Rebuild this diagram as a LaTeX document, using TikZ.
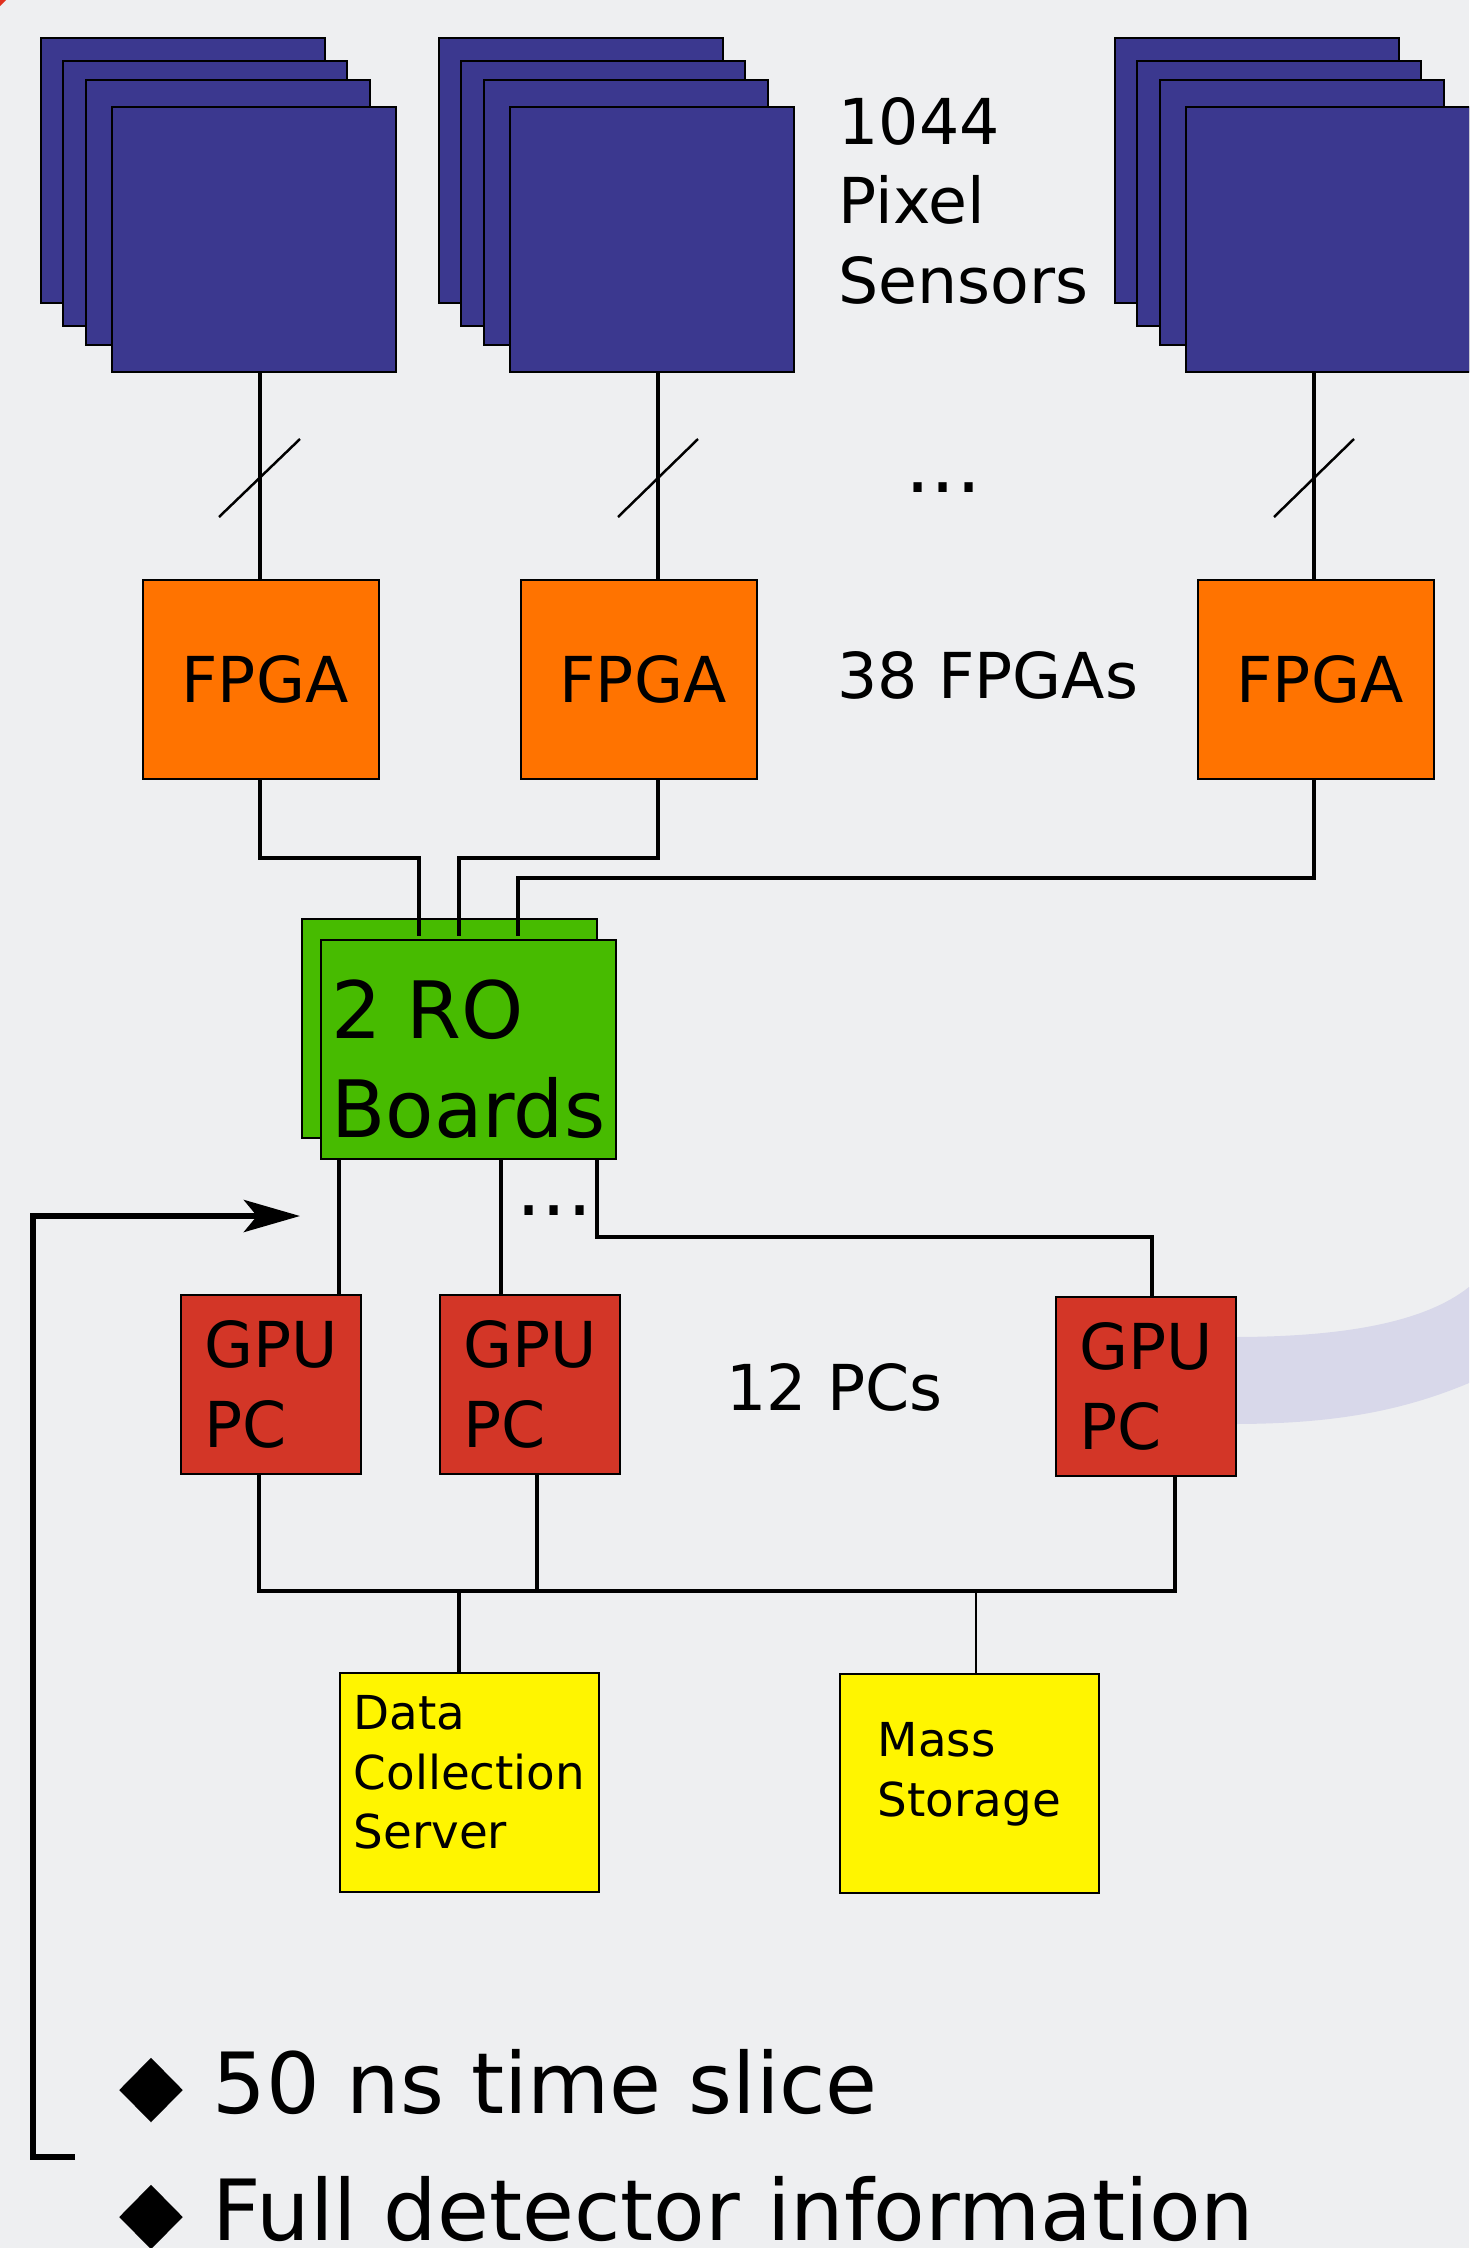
\documentclass[tikz,border=0pt]{standalone}
\usepackage{fontspec}
\setmainfont{DejaVu Sans}
\usetikzlibrary{arrows.meta, shapes.geometric}

\definecolor{bgcol}{HTML}{EEEFF1}
\definecolor{sensorblue}{HTML}{3B388F}
\definecolor{fpgaorange}{HTML}{FF7300}
\definecolor{rogreen}{HTML}{47BB00}
\definecolor{gpured}{HTML}{D33627}
\definecolor{storeyellow}{HTML}{FFF500}
\definecolor{bandlilac}{HTML}{D8D8EA}
\definecolor{cornerred}{HTML}{E0301E}

\begin{document}
\begin{tikzpicture}[
        x=0.01cm, y=-0.01cm,
        sensor/.style={
            draw=black,
            fill=sensorblue,
            line width=0.6pt,
            anchor=north west,
            inner sep=0pt,
            minimum width=2.84cm,
            minimum height=2.65cm
        },
        fpgabox/.style={
            draw=black,
            fill=fpgaorange,
            line width=0.5pt,
            anchor=north west,
            inner sep=0pt,
            font=\fontsize{18}{22.5}\selectfont,
            minimum width=2.36cm,
            minimum height=1.99cm
        },
        robox/.style={
            draw=black,
            fill=rogreen,
            line width=0.5pt,
            anchor=north west,
            inner sep=0pt,
            align=left,
            font=\fontsize{22.5}{28}\selectfont,
            minimum width=2.95cm,
            minimum height=2.19cm
        },
        gpubox/.style={
            draw=black,
            fill=gpured,
            line width=0.5pt,
            anchor=north west,
            inner sep=0pt,
            align=left,
            font=\fontsize{18}{22.8}\selectfont,
            minimum width=1.80cm,
            minimum height=1.79cm
        },
        storebox/.style={
            draw=black,
            fill=storeyellow,
            line width=0.5pt,
            anchor=north west,
            inner sep=0pt,
            align=left,
            font=\fontsize{13.3}{16.8}\selectfont,
            minimum width=2.59cm,
            minimum height=2.19cm
        },
        note/.style={
            anchor=base west,
            inner sep=0pt,
            align=left,
            font=\fontsize{18}{22.5}\selectfont
        },
        dots/.style={
            anchor=base west,
            inner sep=0pt,
            font=\fontsize{22.5}{27}\selectfont
        },
        bigtext/.style={
            anchor=base west,
            inner sep=0pt,
            font=\fontsize{24}{28}\selectfont
        },
        bullet/.style={
            diamond,
            fill=black,
            inner sep=0pt,
            minimum width=0.64cm,
            minimum height=0.65cm
        },
        wire/.style={
            line width=1.2pt,
            draw=black
        },
        thinwire/.style={
            line width=0.6pt,
            draw=black
        },
        slash/.style={
            line width=0.7pt,
            draw=black
        },
        feedback/.style={
            line width=1.7pt,
            draw=black,
            -{Stealth[length=0.56cm, width=0.32cm, inset=0.13cm]}
        }
    ]
        % Background
        \fill[bgcol] (0,0) rectangle (1469,2248);
        \useasboundingbox (0,0) rectangle (1469,2248);
        \clip (0,0) rectangle (1469,2248);
        \fill[cornerred] (0,0) -- (6,0) -- (0,6) -- cycle;

        % Band behind the last PC
        \fill[bandlilac] (1232,1337) .. controls (1345,1337) and (1425,1322) .. (1469,1287)
            -- (1469,1383) .. controls (1400,1412) and (1330,1424) .. (1232,1424) -- cycle;

        % Pixel sensors
        \foreach \n/\sx in {1/40, 2/438, 3/1114} {
            \node[sensor] (sens\n-a) at (\sx,37) {};
            \node[sensor] (sens\n-b) at (\sx+22,60) {};
            \node[sensor] (sens\n-c) at (\sx+45,79) {};
            \node[sensor] (sens\n) at (\sx+71,106) {};
        }
        \node[note] (pixels) at (838,303) {1044\\Pixel\\Sensors};
        \node[dots] (moresens) at (905,492) {...};

        % FPGAs
        \node[fpgabox] (fpga1) at (142,579) {\hspace*{0.08cm}FPGA};
        \node[fpgabox] (fpga2) at (520,579) {\hspace*{0.08cm}FPGA};
        \node[fpgabox] (fpga3) at (1197,579) {\hspace*{0.08cm}FPGA};
        \node[note] (nfpga) at (837,698) {38 FPGAs};

        % Readout boards
        \node[robox] (roback) at (301,918) {};
        \node[robox] (ro) at (320,939) {\rule{0pt}{0.78cm}2 RO\\Boards};
        \node[dots] (moreout) at (516,1215) {...};

        % GPU PCs
        \node[gpubox] (gpu1) at (180,1294) {GPU\\PC};
        \node[gpubox] (gpu2) at (439,1294) {GPU\\PC};
        \node[gpubox] (gpu3) at (1055,1296) {GPU\\PC};
        \node[note] (npc) at (726,1410) {12 PCs};

        % Storage
        \node[storebox, text depth=0.21cm] (dcs) at (339,1672) {Data\\Collection\\Server};
        \node[storebox, text depth=0.28cm] (mass) at (839,1673) {Mass\\Storage};

        % Columns of the links
        \coordinate (c1) at (260,0);
        \coordinate (c2) at (658,0);
        \coordinate (c3) at (1314,0);
        \coordinate (in1) at (419,936);
        \coordinate (in2) at (459,936);
        \coordinate (in3) at (518,936);
        \coordinate (o1) at (339,0);
        \coordinate (o2) at (501,0);
        \coordinate (o3) at (597,0);
        \coordinate (o4) at (1152,0);
        \coordinate (b1) at (259,0);
        \coordinate (b2) at (537,0);
        \coordinate (b3) at (1175,0);
        \coordinate (d1) at (459,0);
        \coordinate (d2) at (976,0);
        \coordinate (bus) at (0,1591);

        % Sensors to FPGAs
        \draw[wire] (sens1.south -| c1) -- (fpga1.north -| c1);
        \draw[wire] (sens2.south -| c2) -- (fpga2.north -| c2);
        \draw[wire] (sens3.south -| c3) -- (fpga3.north -| c3);
        \draw[slash] (219,517) -- (300,439);
        \draw[slash] (618,517) -- (698,439);
        \draw[slash] (1274,517) -- (1354,439);

        % FPGAs to readout boards
        \draw[wire] (fpga1.south -| c1) -- ++(0,78) -| (in1);
        \draw[wire] (fpga2.south -| c2) -- ++(0,78) -| (in2);
        \draw[wire] (fpga3.south -| c3) -- ++(0,98) -| (in3);

        % Readout boards to PCs
        \draw[wire] (ro.south -| o1) -- (gpu1.north -| o1);
        \draw[wire] (ro.south -| o2) -- (gpu2.north -| o2);
        \draw[wire] (ro.south -| o3) -- ++(0,77) -| (gpu3.north -| o4);

        % PCs to storage
        \draw[wire] (gpu1.south -| b1) -- (bus -| b1) -- (bus -| b3) -- (gpu3.south -| b3);
        \draw[wire] (gpu2.south -| b2) -- (bus -| b2);
        \draw[wire] (bus -| d1) -- (dcs.north -| d1);
        \draw[thinwire] (bus -| d2) -- (mass.north -| d2);

        % Time slice feedback
        \coordinate (foot) at (75,2157);
        \coordinate (roin) at (300,1216);
        \draw[feedback] (foot) -- ++(-42,0) |- (roin);

        \node[bullet] (bul1) at (151,2090) {};
        \node[bigtext] (slice) at (212,2113) {50 ns time slice};
        \node[bullet] (bul2) at (151,2217) {};
        \node[bigtext] (detinfo) at (212,2240) {Full detector information};
    \end{tikzpicture}
\end{document}
